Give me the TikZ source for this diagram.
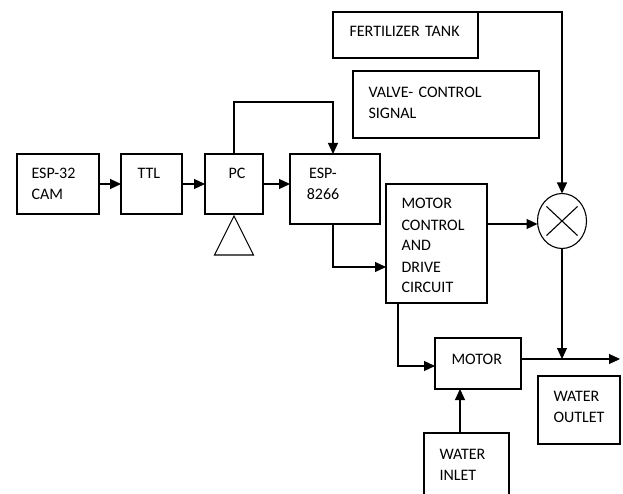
\documentclass[tikz,border=0pt]{standalone}
\usepackage{fontspec}
\setmainfont{Carlito}
\usetikzlibrary{arrows.meta,shapes.geometric,shapes.misc}

\tikzset{
  blk/.style={draw,rectangle,inner sep=0pt,outer sep=0pt},
  txt/.style={font=\fontsize{16}{21}\selectfont,inner sep=0pt,anchor=base west,align=left,text width=150pt},
  arr/.style={-{Triangle[length=11pt,width=10pt]}}
}

\begin{document}
\begin{tikzpicture}[x=1pt,y=-1pt,line width=1.1pt]
    \useasboundingbox (0,0) rectangle (623,494);
    \clip (0,0) rectangle (623,494);
    \node[blk,minimum width=82,minimum height=60]  (cam)    at (58,184) {};
    \node[blk,minimum width=61,minimum height=60]  (ttl)    at (151.5,184) {};
    \node[blk,minimum width=58,minimum height=60]  (pc)     at (234,184) {};
    \node[blk,minimum width=90,minimum height=70]  (esp)    at (335,189) {};
    \node[blk,minimum width=145,minimum height=46] (tank)   at (405.5,35) {};
    \node[blk,minimum width=186,minimum height=67] (valve)  at (446,104.5) {};
    \node[blk,minimum width=101,minimum height=119] (drive) at (436.5,243.5) {};
    \node[blk,minimum width=86,minimum height=51]  (motor)  at (478,363.5) {};
    \node[blk,minimum width=82,minimum height=68]  (outlet) at (579,410) {};
    \node[blk,minimum width=85,minimum height=72]  (inlet)  at (466.5,469) {};
    \node[draw,ellipse,inner sep=0pt,outer sep=0pt,minimum width=49,minimum height=55] (mix) at (562,221) {};
    \node[draw,cross out,inner sep=0pt,minimum width=30,minimum height=28] (mixx) at (mix.center) {};
    \node[draw,isosceles triangle,isosceles triangle stretches,shape border rotate=90,
          inner sep=0pt,outer sep=0pt,minimum width=39,minimum height=39,anchor=apex] (ant) at ([yshift=-2pt]pc.south) {};

    \node[txt] (camtxt)    at (31,179)  {ESP-32\\CAM};
    \node[txt] (ttltxt)    at (137,179) {TTL};
    \node[txt] (pctxt)     at (228,179) {PC};
    \node[txt,text width=60pt,align=center,anchor=base] (esptxt) at (323,179) {ESP-\\8266};
    \node[txt] (tanktxt)   at (349,37)  {FERTILIZER TANK};
    \node[txt] (valvetxt)  at (368,98)  {VALVE- CONTROL\\SIGNAL};
    \node[txt] (drivetxt)  at (401,209) {MOTOR\\CONTROL\\AND\\DRIVE\\CIRCUIT};
    \node[txt] (motortxt)  at (451,364) {MOTOR};
    \node[txt] (outlettxt) at (553,401) {WATER\\OUTLET};
    \node[txt] (inlettxt)  at (439,459) {WATER\\INLET};

    \coordinate (top) at (333,102);
    \coordinate (bend) at (333,267);
    \coordinate (drv) at (398,366);
    \coordinate (out) at (620,359);
    \coordinate (inl) at (460,0);

    \draw[arr] (cam) -- (ttl);
    \draw[arr] (ttl) -- (pc);
    \draw[arr] (pc.east) -- (pc.east -| esp.west);
    \draw[arr] (pc.north) |- (top) -- (top |- esp.north);
    \draw[arr] (bend |- esp.south) -- (bend) -- (bend -| drive.west);
    \draw[arr] (tank.north east) -| (mix.north);
    \draw[arr] (drive.east |- 0,224) -- (mix.west |- 0,224);
    \draw[arr] (mix.south) -- (mix.south |- out);
    \draw[arr] (motor.east |- out) -- (out);
    \draw[arr] (drv |- drive.south) -- (drv) -- (drv -| motor.west);
    \draw[arr] (inl |- inlet.north) -- (inl |- motor.south);
\end{tikzpicture}
\end{document}
